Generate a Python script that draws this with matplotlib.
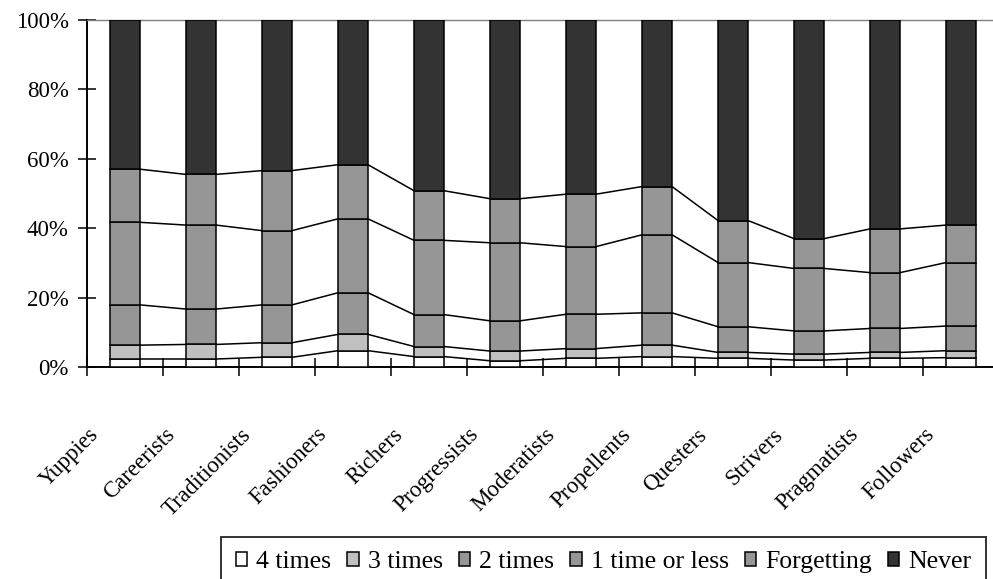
import matplotlib.pyplot as plt
import matplotlib.transforms as mtransforms
import numpy as np

plt.rcParams["font.family"] = ["Liberation Serif", "DejaVu Serif"]

segments = ["Yuppies", "Careerists", "Traditionists", "Fashioners", "Richers",
            "Progressists", "Moderatists", "Propellents", "Questers", "Strivers",
            "Pragmatists", "Followers"]

# shares per segment, in percent
four_times = [2.3, 2.3, 2.8, 4.7, 3.0, 1.8, 2.5, 3.0, 2.5, 2.0, 2.5, 2.7]
three_times = [4.0, 4.2, 4.2, 4.7, 2.9, 2.8, 2.8, 3.3, 1.7, 1.7, 1.7, 2.0]
two_times = [11.6, 10.2, 10.9, 12.0, 9.2, 8.7, 9.9, 9.3, 7.4, 6.7, 6.9, 7.1]
one_time = [23.8, 24.2, 21.4, 21.3, 21.4, 22.5, 19.5, 22.5, 18.5, 18.0, 16.1, 18.3]
forgetting = [15.3, 14.6, 17.3, 15.6, 14.3, 12.7, 15.1, 13.9, 12.1, 8.6, 12.6, 10.8]
never = [43.0, 44.5, 43.4, 41.7, 49.2, 51.5, 50.2, 48.0, 57.8, 63.0, 60.2, 59.1]

series = [
    ("4 times", four_times, "#ffffff"),
    ("3 times", three_times, "#c0c0c0"),
    ("2 times", two_times, "#969696"),
    ("1 time or less", one_time, "#969696"),
    ("Forgetting", forgetting, "#969696"),
    ("Never", never, "#333333"),
]

fig = plt.figure(figsize=(9.93, 5.79), dpi=100)
ax = fig.add_axes([87 / 993, 212 / 579, 906 / 993, 347 / 579])

x = np.arange(len(segments))
width = 0.395
bottom = np.zeros(len(segments))
levels = []
for name, vals, color in series:
    vals = np.asarray(vals, dtype=float)
    ax.bar(x, vals, width, bottom=bottom, color=color, edgecolor="black",
           linewidth=1.1, label=name, zorder=3)
    bottom = bottom + vals
    levels.append(bottom.copy())

# series lines joining the stacked levels between neighbouring bars
for lvl in levels:
    for i in range(len(segments) - 1):
        ax.plot([x[i] + width / 2, x[i + 1] - width / 2], [lvl[i], lvl[i + 1]],
                color="black", linewidth=1.1, zorder=2, solid_capstyle="butt")

ax.set_xlim(-0.5, 11.42)
ax.set_ylim(0, 100)
ax.set_yticks(np.arange(0, 101, 20))
ax.set_yticklabels([f"{v}%" for v in range(0, 101, 20)], fontsize=16.5)
ax.set_xticks(np.arange(-0.5, 11.5, 1.0))
ax.set_xticklabels([])
ax.tick_params(axis="both", direction="inout", length=12.5, width=1.1, color="black")
ax.tick_params(axis="y", pad=7)

ax.spines["right"].set_visible(False)
ax.spines["top"].set_color("#808080")
ax.spines["top"].set_linewidth(1.0)
ax.spines["left"].set_linewidth(1.4)
ax.spines["bottom"].set_linewidth(1.4)

# rotated category names below the axis
label_tf = mtransforms.offset_copy(ax.transData, fig=fig, x=-22, y=-57, units="dots")
for xi, name in zip(x, segments):
    ax.text(xi, 0, name, transform=label_tf, rotation=45, ha="right", va="top",
            fontsize=16.5)

handles, labels = ax.get_legend_handles_labels()
leg = fig.legend(handles, labels, loc="upper center", ncol=6,
                 bbox_to_anchor=(603.5 / 993, 42 / 579), bbox_transform=fig.transFigure,
                 frameon=True, fancybox=False, edgecolor="black", fontsize=18.5,
                 handlelength=0.45, handleheight=0.45, handletextpad=0.35,
                 columnspacing=0.62, borderpad=0.55, borderaxespad=0.0)
leg.get_frame().set_linewidth(1.4)

fig.savefig("out.png", dpi=100)
